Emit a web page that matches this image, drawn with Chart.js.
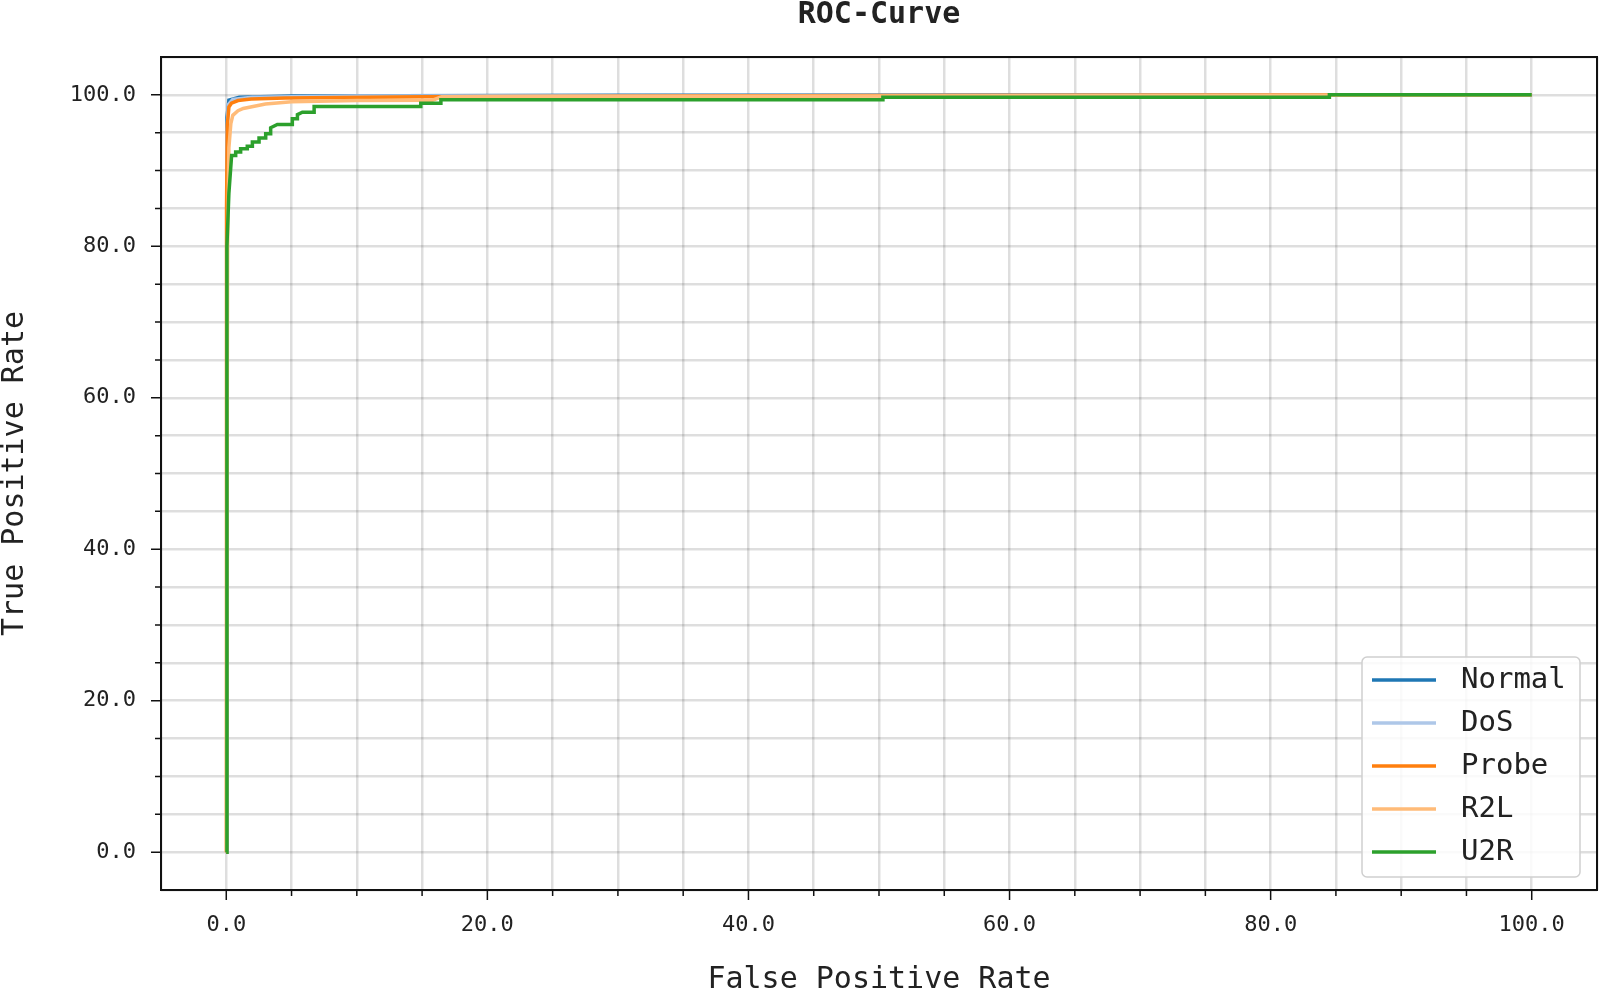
<!DOCTYPE html>
<html>
<head>
<meta charset="utf-8">
<script src="https://cdn.jsdelivr.net/npm/chart.js@4.4.1/dist/chart.umd.min.js"></script>
<style>
  html, body { margin: 0; padding: 0; background: #fff; }
  canvas { display: block; }
</style>
</head>
<body>
<canvas id="roc" width="1600" height="995"></canvas>
<script>
// ── Datos (FPR / TPR en %) ──
const seriesNames = ['Normal', 'DoS', 'Probe', 'R2L', 'U2R'];
const seriesColors = ['#1f77b4', '#aec7e8', '#ff7f0e', '#ffbb78', '#2ca02c'];

const normalFpr = [0, 0.05, 0.2, 1, 5, 30, 100];
const normalTpr = [0, 97, 99.3, 99.7, 99.85, 99.95, 100];

const dosFpr = [0, 0.05, 0.15, 0.5, 2, 10, 100];
const dosTpr = [0, 95, 98.7, 99.4, 99.7, 99.85, 100];

const probeFpr = [0, 0.02, 0.08, 0.2, 0.4, 0.9, 1.9, 4.5, 15, 50, 100];
const probeTpr = [0, 85, 96, 98.4, 98.9, 99.25, 99.45, 99.6, 99.75, 99.9, 100];

const r2lFpr = [0, 0.1, 0.2, 0.35, 0.5, 0.9, 1.3, 3, 5, 10, 15.8, 16.5, 50, 100];
const r2lTpr = [0, 80, 93, 96.2, 97.3, 97.9, 98.2, 98.8, 99.1, 99.25, 99.3, 99.75, 99.85, 100];

const u2rFpr = [0, 0.05, 0.2, 0.41, 0.72, 0.72, 1.1, 1.1, 1.61, 1.61, 2.0, 2.0, 2.51, 2.51, 3.02, 3.02, 3.4, 3.4, 3.91, 5.06, 5.06, 5.45, 5.45, 5.83, 6.73, 6.73, 14.9, 14.9, 16.44, 16.44, 50.3, 50.3, 84.5, 84.5, 100];
const u2rTpr = [0, 80, 87, 92.0, 92.0, 92.45, 92.45, 92.9, 92.9, 93.2, 93.2, 93.77, 93.77, 94.3, 94.3, 94.86, 94.86, 95.65, 96.09, 96.09, 96.84, 96.84, 97.4, 97.7, 97.7, 98.46, 98.46, 98.9, 98.9, 99.35, 99.35, 99.7, 99.7, 100, 100];

const xTicks = [0, 20, 40, 60, 80, 100];
const yTicks = [0, 20, 40, 60, 80, 100];

const fprList = [normalFpr, dosFpr, probeFpr, r2lFpr, u2rFpr];
const tprList = [normalTpr, dosTpr, probeTpr, r2lTpr, u2rTpr];

const mono = 'DejaVu Sans Mono';
const gridColor = 'rgba(0,0,0,0.13)';

// ── Marco, marcas de ejes y leyenda ──
const framePlugin = {
    id: 'frame',
    afterDatasetsDraw(chart) {
        const { ctx, chartArea: a, scales: { x, y } } = chart;
        ctx.save();
        ctx.strokeStyle = '#111';
        ctx.lineWidth = 1.5;
        ctx.beginPath();
        for (let v = 0; v <= 100; v += 5) {
            const len = xTicks.includes(v) ? 10 : 6;
            const px = x.getPixelForValue(v);
            ctx.moveTo(px, a.bottom); ctx.lineTo(px, a.bottom + len);
            const py = y.getPixelForValue(v);
            ctx.moveTo(a.left, py); ctx.lineTo(a.left - len, py);
        }
        ctx.stroke();
        ctx.lineWidth = 2;
        ctx.strokeRect(a.left, a.top, a.right - a.left, a.bottom - a.top);
        ctx.restore();
    },
    afterDraw(chart) {
        const { ctx } = chart;
        const bx = 1362, by = 657, bw = 218, bh = 220;
        ctx.save();
        ctx.fillStyle = 'rgba(255,255,255,0.85)';
        ctx.strokeStyle = '#cfcfcf';
        ctx.lineWidth = 1.5;
        ctx.beginPath();
        ctx.roundRect(bx, by, bw, bh, 5);
        ctx.fill();
        ctx.stroke();
        ctx.font = `29px "${mono}"`;
        ctx.textBaseline = 'middle';
        ctx.fillStyle = '#222';
        chart.data.datasets.forEach((ds, i) => {
            const ry = 680 + i * 43;
            ctx.strokeStyle = ds.borderColor;
            ctx.lineWidth = 3.5;
            ctx.beginPath();
            ctx.moveTo(1372, ry); ctx.lineTo(1436, ry);
            ctx.stroke();
            ctx.fillText(ds.label, 1461, ry);
        });
        ctx.restore();
    }
};

const datasets = seriesNames.map((name, i) => ({
    label: name,
    data: fprList[i].map((fx, k) => ({ x: fx, y: tprList[i][k] })),
    borderColor: seriesColors[i],
    backgroundColor: seriesColors[i],
    borderWidth: 3.5,
    pointRadius: 0,
    tension: 0,
    fill: false,
    order: seriesNames.length - i
}));

new Chart(document.getElementById('roc'), {
    type: 'line',
    data: { datasets },
    options: {
        responsive: false,
        animation: false,
        layout: { padding: { left: 0, right: 3, top: 0, bottom: 0 } },
        plugins: {
            legend: { display: false },
            tooltip: { enabled: false },
            title: {
                display: true,
                fullSize: false,
                text: 'ROC-Curve',
                color: '#222',
                font: { family: mono, size: 30, weight: 'bold', lineHeight: 1 },
                padding: { top: 0, bottom: 27 }
            }
        },
        scales: {
            x: {
                type: 'linear',
                min: -5, max: 105,
                afterFit: s => { s.height = 105; s.paddingLeft = 0; s.paddingRight = 0; },
                grid: { color: gridColor, lineWidth: 2.5, drawTicks: false },
                border: { display: false },
                ticks: {
                    stepSize: 5, autoSkip: false, padding: 22, color: '#222',
                    maxRotation: 0, minRotation: 0,
                    font: { family: mono, size: 22 },
                    callback: v => xTicks.includes(v) ? v.toFixed(1) : ''
                },
                title: {
                    display: true, text: 'False Positive Rate', color: '#222',
                    font: { family: mono, size: 30, lineHeight: 1 },
                    padding: 0
                }
            },
            y: {
                type: 'linear',
                min: -5, max: 105,
                afterFit: s => { s.width = 161; },
                grid: { color: gridColor, lineWidth: 2.5, drawTicks: false },
                border: { display: false },
                ticks: {
                    stepSize: 5, autoSkip: false, padding: 25, color: '#222',
                    font: { family: mono, size: 22 },
                    callback: v => yTicks.includes(v) ? v.toFixed(1) : ''
                },
                title: {
                    display: true, text: 'True Positive Rate', color: '#222',
                    font: { family: mono, size: 30, lineHeight: 1 },
                    padding: 0
                }
            }
        }
    },
    plugins: [framePlugin]
});
</script>
</body>
</html>
